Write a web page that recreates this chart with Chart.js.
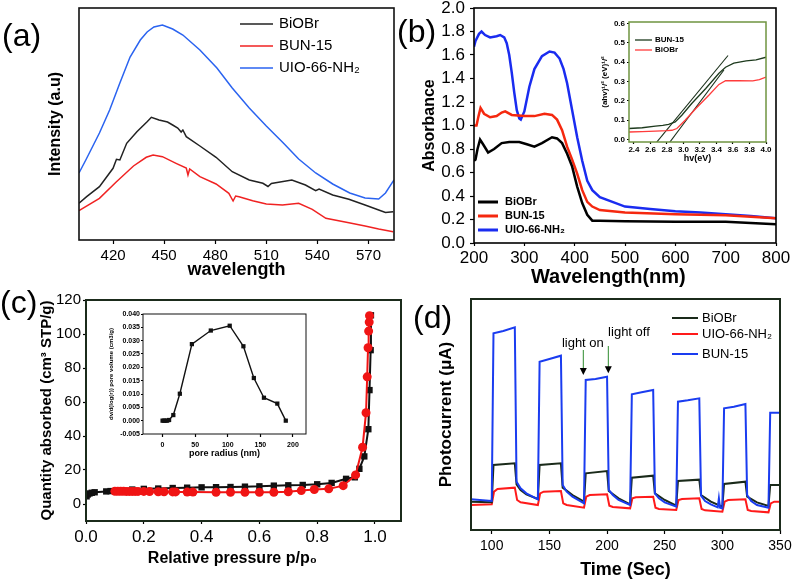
<!DOCTYPE html>
<html>
<head>
<meta charset="utf-8">
<title>BiOBr / UIO-66-NH2 / BUN-15</title>
<script src="https://cdn.jsdelivr.net/npm/chart.js@4.4.1/dist/chart.umd.min.js"></script>
<style>
  html, body { margin: 0; padding: 0; background: #fff; }
  body { position: relative; width: 792px; height: 582px; overflow: hidden; font-family: "Liberation Sans", Arial, sans-serif; }
  canvas { position: absolute; }
  .tag { position: absolute; font-size: 32px; line-height: 32px; color: #000; z-index: 5; }
</style>
</head>
<body>
<canvas id="plChart" width="400" height="290" style="left:0;top:0"></canvas>
<canvas id="uvChart" width="392" height="290" style="left:400px;top:0"></canvas>
<canvas id="taucChart" width="185" height="150" style="left:590px;top:15px"></canvas>
<canvas id="betChart" width="410" height="292" style="left:0;top:290px"></canvas>
<canvas id="poreChart" width="212" height="157" style="left:100px;top:305px"></canvas>
<canvas id="currentChart" width="382" height="292" style="left:410px;top:290px"></canvas>
<div class="tag" style="left:2px;top:19px">(a)</div>
<div class="tag" style="left:397px;top:15px">(b)</div>
<div class="tag" style="left:0;top:286px">(c)</div>
<div class="tag" style="left:413px;top:301px">(d)</div>
<script>
// (a) PL spectra
const plTicks = [420, 450, 480, 510, 540, 570];
const plBiOBrX = [400, 404.5, 412, 420, 422, 424, 428, 434, 440, 442.5, 447, 452, 455, 458, 460, 461, 463, 471, 480.5, 490, 500, 508, 511, 513, 515.5, 525, 533, 539, 541, 549, 558.5, 568, 576, 580, 584.5];
const plBiOBrY = [36.7, 43.3, 53.3, 71.7, 80.7, 80, 96.7, 108.3, 118.3, 122.7, 120, 118, 115, 112, 108, 110, 103.3, 94, 82.7, 68.3, 60, 56.7, 53.5, 56.5, 57.3, 60, 55, 49.3, 51, 45, 40.7, 35, 30, 27.5, 28.3];
const plBunX = [400, 412, 422, 432, 439.5, 443.5, 449, 457, 463, 464, 465, 471, 480.5, 488, 490.5, 492, 494, 502, 510, 519.5, 529, 537, 545, 558.5, 568, 576, 584.5];
const plBunY = [29.3, 41.7, 58.3, 74, 82.7, 85, 83.3, 76.7, 72, 65, 71, 63.3, 56, 46.7, 39, 44, 43.3, 39.3, 36, 35, 36.7, 30.7, 21.7, 17.3, 14, 11, 8.3];
const plUioX = [400, 404, 412, 418, 424, 430, 436, 440, 444, 449, 455, 461, 471, 481, 490, 500, 510, 520, 529, 539, 549, 559, 568, 576, 580, 585];
const plUioY = [67, 80, 107, 130, 157, 183, 200, 208, 213, 215, 211, 205, 190, 172, 152, 132, 114, 97, 81, 67, 56, 47, 42, 41, 47, 60];

// (b) UV-vis absorbance
const uvXTicks = [200, 300, 400, 500, 600, 700, 800];
const uvYTicks = [0, 0.2, 0.4, 0.6, 0.8, 1.0, 1.2, 1.4, 1.6, 1.8, 2.0];
const uvBiOBrX = [200, 203, 207, 212, 218, 228, 240, 255, 270, 290, 305, 320, 335, 355, 365, 375, 385, 395, 405, 415, 425, 435, 450, 500, 600, 700, 800];
const uvBiOBrY = [0.70, 0.71, 0.80, 0.88, 0.84, 0.77, 0.80, 0.85, 0.86, 0.86, 0.84, 0.82, 0.85, 0.90, 0.89, 0.85, 0.76, 0.65, 0.48, 0.34, 0.24, 0.19, 0.19, 0.185, 0.18, 0.18, 0.16];
const uvBunX = [200, 205, 209, 213, 220, 232, 245, 255, 262, 275, 300, 320, 340, 355, 365, 375, 385, 395, 405, 415, 425, 435, 450, 500, 600, 700, 800];
const uvBunY = [1.00, 1.00, 1.08, 1.15, 1.10, 1.07, 1.08, 1.11, 1.12, 1.09, 1.08, 1.08, 1.10, 1.09, 1.05, 0.96, 0.82, 0.71, 0.59, 0.45, 0.35, 0.31, 0.28, 0.26, 0.245, 0.236, 0.21];
const uvUioX = [200, 203, 210, 215, 222, 232, 245, 252, 260, 265, 270, 275, 280, 285, 290, 293, 300, 310, 320, 335, 350, 360, 370, 378, 385, 395, 405, 415, 425, 435, 450, 475, 500, 550, 600, 650, 700, 750, 800];
const uvUioY = [1.67, 1.72, 1.78, 1.80, 1.77, 1.75, 1.76, 1.77, 1.75, 1.70, 1.60, 1.45, 1.28, 1.13, 1.06, 1.05, 1.12, 1.33, 1.48, 1.59, 1.63, 1.62, 1.57, 1.48, 1.36, 1.13, 0.90, 0.70, 0.53, 0.45, 0.39, 0.35, 0.31, 0.29, 0.27, 0.26, 0.245, 0.23, 0.21];

// (b) inset, Tauc plot
const taucXTicks = [2.4, 2.6, 2.8, 3.0, 3.2, 3.4, 3.6, 3.8, 4.0];
const taucYTicks = [0, 0.1, 0.2, 0.3, 0.4, 0.5, 0.6];
const taucBunX = [2.34, 2.5, 2.66, 2.75, 2.82, 2.9, 2.98, 3.1, 3.27, 3.43, 3.51, 3.61, 3.76, 3.88, 4.0];
const taucBunY = [0.056, 0.06, 0.068, 0.072, 0.078, 0.09, 0.125, 0.186, 0.264, 0.343, 0.374, 0.395, 0.407, 0.412, 0.426];
const taucBiOBrX = [2.34, 2.5, 2.66, 2.8, 2.86, 2.92, 3.02, 3.15, 3.31, 3.43, 3.51, 3.67, 3.84, 3.92, 4.0];
const taucBiOBrY = [0.038, 0.04, 0.042, 0.045, 0.047, 0.056, 0.099, 0.16, 0.23, 0.285, 0.304, 0.304, 0.303, 0.31, 0.323];
const taucFitAX = [2.66, 3.54];
const taucFitAY = [-0.023, 0.435];
const taucFitBX = [2.82, 3.49];
const taucFitBY = [-0.023, 0.36];

// (c) N2 isotherm
const betXTicks = [0, 0.2, 0.4, 0.6, 0.8, 1.0];
const betYTicks = [0, 20, 40, 60, 80, 100, 120];
const betBlackX = [0.002, 0.006, 0.012, 0.02, 0.03, 0.07, 0.085, 0.12, 0.16, 0.2, 0.25, 0.3, 0.35, 0.4, 0.45, 0.5, 0.55, 0.6, 0.65, 0.7, 0.75, 0.8, 0.85, 0.9, 0.93, 0.946, 0.963, 0.977, 0.981, 0.985, 0.986];
const betBlackY = [4.5, 5.6, 6.2, 6.6, 6.9, 7.4, 7.6, 8.1, 8.5, 8.9, 9.1, 9.4, 9.6, 9.8, 9.9, 10.0, 10.2, 10.4, 10.8, 11.0, 11.2, 11.6, 12.4, 14.8, 15.7, 20.7, 28, 44, 67, 90.5, 111];
const betRedX = [0.10, 0.11, 0.12, 0.13, 0.14, 0.15, 0.16, 0.17, 0.18, 0.20, 0.22, 0.25, 0.27, 0.30, 0.31, 0.35, 0.37, 0.45, 0.50, 0.55, 0.60, 0.65, 0.70, 0.745, 0.79, 0.84, 0.89, 0.933, 0.957, 0.969, 0.973, 0.976, 0.978, 0.980, 0.981];
const betRedY = [7.5, 7.5, 7.5, 7.5, 7.4, 7.4, 7.4, 7.4, 7.4, 7.4, 7.3, 7.2, 7.2, 7.1, 7.1, 7.0, 7.0, 6.9, 6.9, 6.9, 6.9, 6.9, 7.2, 7.9, 8.5, 8.9, 10.8, 17.1, 33.4, 53.7, 74.8, 91.9, 101.7, 107, 110.8];

// (c) inset, pore size distribution
const poreXTicks = [0, 50, 100, 150, 200];
const poreYTicks = [-0.005, 0, 0.005, 0.010, 0.015, 0.020, 0.025, 0.030, 0.035, 0.040];
const poreR = [0, 2, 4.5, 7, 10, 16.5, 26.5, 45, 74, 103, 124, 140, 155.5, 176, 189];
const poreV = [0, 0, 0, 0, 0.00025, 0.0021, 0.0101, 0.0287, 0.0338, 0.0356, 0.0279, 0.0160, 0.0086, 0.0064, 0];

// (d) transient photocurrent
const ptTicks = [100, 150, 200, 250, 300, 350];
const ptBiOBrT = [82, 100, 101.5, 120, 121.5, 125, 130, 140, 141.5, 160, 161.5, 170, 180, 181.5, 200, 201.5, 210, 220, 221.5, 240, 241.5, 250, 260, 261.5, 280, 281.5, 290, 300, 301.5, 320, 321.5, 330, 340, 341.5, 350];
const ptBiOBrI = [0.85, 0.83, 1.95, 2.00, 1.37, 1.20, 1.07, 0.93, 1.95, 2.00, 1.27, 1.05, 0.85, 1.70, 1.77, 1.17, 0.95, 0.77, 1.57, 1.63, 1.10, 0.90, 0.73, 1.47, 1.51, 1.05, 0.85, 0.70, 1.38, 1.45, 1.00, 0.83, 0.72, 1.35, 1.35];
const ptUioT = [82, 100, 102, 105, 120, 122, 125, 140, 142, 145, 160, 162, 165, 180, 182, 185, 200, 202, 205, 220, 222, 225, 240, 242, 245, 260, 262, 265, 280, 282, 285, 300, 302, 305, 320, 322, 325, 340, 342, 345, 350];
const ptUioI = [0.75, 0.77, 1.15, 1.23, 1.27, 0.90, 0.83, 0.75, 1.10, 1.15, 1.17, 0.80, 0.75, 0.67, 1.00, 1.05, 1.07, 0.73, 0.69, 0.65, 0.95, 0.98, 1.00, 0.67, 0.63, 0.60, 0.90, 0.93, 0.95, 0.63, 0.59, 0.55, 0.85, 0.90, 0.92, 0.60, 0.57, 0.53, 0.80, 0.85, 0.85];
const ptBunT = [82, 100, 101.5, 110, 120, 121.5, 125, 130, 140, 141.5, 150, 160, 161.5, 165, 170, 180, 181.5, 190, 200, 201.5, 205, 210, 220, 221.5, 230, 240, 241.5, 245, 250, 260, 261.5, 270, 280, 281.5, 285, 290, 296, 297, 298, 300, 301.5, 310, 320, 321.5, 325, 330, 340, 341.5, 350];
const ptBunI = [0.92, 0.87, 5.90, 5.97, 6.08, 1.45, 1.25, 1.10, 0.92, 5.05, 5.13, 5.23, 1.35, 1.15, 1.00, 0.80, 4.50, 4.53, 4.60, 1.20, 1.05, 0.90, 0.75, 4.07, 4.13, 4.20, 1.10, 0.95, 0.83, 0.70, 3.85, 3.89, 3.95, 1.03, 0.87, 0.77, 0.68, 0.95, 0.67, 0.65, 3.65, 3.70, 3.78, 1.05, 0.87, 0.75, 0.67, 3.52, 3.52];
const noteLabels = [
  { text: "light on", x: 179, y: 5.60 },
  { text: "light off", x: 219, y: 5.92 }
];
const noteArrows = [
  { x: 179.4, from: 5.40, to: 4.65 },
  { x: 201.1, from: 5.52, to: 4.70 }
];

const FONT = "'Liberation Sans', Arial, Helvetica, sans-serif";
Chart.defaults.font.family = FONT;
Chart.defaults.color = "#000";
Chart.defaults.animation = false;

function pts(xs, ys) {
  return xs.map((x, i) => ({ x: x, y: ys[i] }));
}

function fixWidth(w) {
  return function (scale) {
    scale.width = w;
    scale.paddingTop = 0;
    scale.paddingBottom = 0;
  };
}

function fixHeight(h) {
  return function (scale) {
    scale.height = h;
    scale.paddingLeft = 0;
    scale.paddingRight = 0;
  };
}

function useTicks(values) {
  return function (scale) {
    scale.ticks = values.map((v) => ({ value: v }));
  };
}

// box around the plot area
const framePlugin = {
  id: "frame",
  afterDatasetsDraw(chart, args, opts) {
    const a = chart.chartArea;
    const ctx = chart.ctx;
    ctx.save();
    ctx.strokeStyle = opts.color || "#000";
    ctx.lineWidth = opts.width || 1.5;
    ctx.strokeRect(a.left, a.top, a.right - a.left, a.bottom - a.top);
    ctx.restore();
  }
};

// legend drawn inside the plot area
const innerLegendPlugin = {
  id: "innerLegend",
  afterDraw(chart, args, opts) {
    if (!opts.rows) {
      return;
    }
    const a = chart.chartArea;
    const ctx = chart.ctx;
    const sets = opts.order.map((i) => chart.data.datasets[i]);
    ctx.save();
    ctx.font = opts.font;
    ctx.textBaseline = "middle";
    ctx.textAlign = "left";
    sets.forEach((ds, i) => {
      const y = a.top + opts.rows[i];
      ctx.strokeStyle = ds.borderColor;
      ctx.lineWidth = opts.lineWidth;
      ctx.beginPath();
      ctx.moveTo(a.left + opts.lineFrom, y);
      ctx.lineTo(a.left + opts.lineTo, y);
      ctx.stroke();
      ctx.fillStyle = "#000";
      ctx.fillText(ds.label, a.left + opts.textAt, y);
    });
    ctx.restore();
  }
};

// "light on / light off" marks
const notesPlugin = {
  id: "notes",
  afterDatasetsDraw(chart, args, opts) {
    if (!opts.labels) {
      return;
    }
    const ctx = chart.ctx;
    const x = chart.scales.x;
    const y = chart.scales.y;
    ctx.save();
    ctx.font = opts.font;
    ctx.fillStyle = "#000";
    ctx.textAlign = "center";
    ctx.textBaseline = "middle";
    opts.labels.forEach((l) => {
      ctx.fillText(l.text, x.getPixelForValue(l.x), y.getPixelForValue(l.y));
    });
    opts.arrows.forEach((ar) => {
      const px = x.getPixelForValue(ar.x);
      const y1 = y.getPixelForValue(ar.from);
      const y2 = y.getPixelForValue(ar.to);
      ctx.strokeStyle = opts.shaftColor;
      ctx.lineWidth = 1;
      ctx.beginPath();
      ctx.moveTo(px, y1);
      ctx.lineTo(px, y2 - 6);
      ctx.stroke();
      ctx.fillStyle = "#000";
      ctx.beginPath();
      ctx.moveTo(px - 3.5, y2 - 7);
      ctx.lineTo(px + 3.5, y2 - 7);
      ctx.lineTo(px, y2);
      ctx.closePath();
      ctx.fill();
    });
    ctx.restore();
  }
};

Chart.register(framePlugin, innerLegendPlugin, notesPlugin);

function lineSet(label, data, color, width) {
  return {
    label: label,
    data: data,
    borderColor: color,
    backgroundColor: color,
    borderWidth: width,
    pointRadius: 0,
    tension: 0,
    fill: false
  };
}

function tickGrid(len) {
  return {
    display: true,
    drawOnChartArea: false,
    drawTicks: true,
    tickLength: len,
    tickColor: "#000",
    tickWidth: 1.2
  };
}

function baseOptions(padding) {
  return {
    responsive: false,
    animation: false,
    layout: { padding: padding },
    plugins: {
      legend: { display: false },
      tooltip: { enabled: false }
    }
  };
}

// ---------- (a) ----------
const optA = baseOptions({ left: 0, top: 8, right: 6, bottom: 0 });
optA.plugins.frame = { color: "#111", width: 1.6 };
optA.plugins.innerLegend = {
  order: [0, 1, 2], rows: [16, 38, 60], lineFrom: 161, lineTo: 194, textAt: 200,
  font: "15px " + FONT, lineWidth: 1.6
};
optA.scales = {
  x: {
    type: "linear", min: 400, max: 585,
    afterBuildTicks: useTicks(plTicks),
    afterFit: fixHeight(50),
    grid: tickGrid(4),
    border: { display: false },
    ticks: { font: { size: 15 }, padding: 3, maxRotation: 0, autoSkip: false },
    title: { display: true, text: "wavelength", font: { size: 18, weight: "bold" }, padding: { top: 0, bottom: 9 } }
  },
  y: {
    type: "linear", min: 0, max: 232,
    afterFit: fixWidth(79),
    grid: { display: false },
    border: { display: false },
    ticks: { display: false },
    title: { display: true, text: "Intensity (a.u)", font: { size: 16, weight: "bold" }, padding: { top: 46, bottom: 0 } }
  }
};
new Chart(document.getElementById("plChart"), {
  type: "line",
  data: {
    datasets: [
      lineSet("BiOBr", pts(plBiOBrX, plBiOBrY), "#222222", 1.5),
      lineSet("BUN-15", pts(plBunX, plBunY), "#f02222", 1.5),
      lineSet("UIO-66-NH₂", pts(plUioX, plUioY), "#2a63f0", 1.5)
    ]
  },
  options: optA
});

// ---------- (b) ----------
const optB = baseOptions({ left: 0, top: 8, right: 16, bottom: 0 });
optB.plugins.frame = { color: "#000", width: 1.6 };
optB.plugins.innerLegend = {
  order: [0, 1, 2], rows: [194, 208, 222], lineFrom: 4, lineTo: 24, textAt: 31,
  font: "bold 11px " + FONT, lineWidth: 3
};
optB.scales = {
  x: {
    type: "linear", min: 200, max: 800,
    afterBuildTicks: useTicks(uvXTicks),
    afterFit: fixHeight(47),
    grid: tickGrid(3),
    border: { display: false },
    ticks: { font: { size: 17 }, padding: 2, maxRotation: 0, autoSkip: false },
    title: { display: true, text: "Wavelength(nm)      ", font: { size: 20, weight: "bold" }, padding: { top: 0, bottom: 1 } }
  },
  y: {
    type: "linear", min: 0, max: 2,
    afterBuildTicks: useTicks(uvYTicks),
    afterFit: fixWidth(74),
    grid: tickGrid(4),
    border: { display: false },
    ticks: { font: { size: 17 }, padding: 5, autoSkip: false, callback: (v) => v.toFixed(1) },
    title: { display: true, text: "Absorbance", font: { size: 16, weight: "bold" }, padding: { top: 20, bottom: 0 } }
  }
};
new Chart(document.getElementById("uvChart"), {
  type: "line",
  data: {
    datasets: [
      lineSet("BiOBr", pts(uvBiOBrX, uvBiOBrY), "#000000", 2.5),
      lineSet("BUN-15", pts(uvBunX, uvBunY), "#f5280f", 2.5),
      lineSet("UIO-66-NH₂", pts(uvUioX, uvUioY), "#1a2cf0", 2.5)
    ]
  },
  options: optB
});

// ---------- (b) inset ----------
const optT = baseOptions({ left: 0, top: 7, right: 9, bottom: 0 });
optT.plugins.frame = { color: "#6f9440", width: 1.5 };
optT.plugins.innerLegend = {
  order: [0, 1], rows: [18, 28], lineFrom: 6, lineTo: 23, textAt: 26,
  font: "bold 8px " + FONT, lineWidth: 1.3
};
optT.scales = {
  x: {
    type: "linear", min: 2.34, max: 4.0,
    afterBuildTicks: useTicks(taucXTicks),
    afterFit: fixHeight(23),
    grid: tickGrid(2),
    border: { display: false },
    ticks: { font: { size: 8, weight: "bold" }, padding: 1, maxRotation: 0, autoSkip: false, callback: (v) => v.toFixed(1) },
    title: { display: true, text: "hv(eV)", font: { size: 9, weight: "bold" }, padding: { top: 0, bottom: 1 } }
  },
  y: {
    type: "linear", min: -0.014, max: 0.609,
    afterBuildTicks: useTicks(taucYTicks),
    afterFit: fixWidth(39),
    grid: tickGrid(2),
    border: { display: false },
    ticks: { font: { size: 8, weight: "bold" }, padding: 2, autoSkip: false, callback: (v) => v.toFixed(1) },
    title: { display: true, text: "(ahv)¹/² (eV)¹/²", font: { size: 8, weight: "bold" }, padding: { top: 10, bottom: 0 } }
  }
};
new Chart(document.getElementById("taucChart"), {
  type: "line",
  data: {
    datasets: [
      lineSet("BUN-15", pts(taucBunX, taucBunY), "#1d3a1d", 1.3),
      lineSet("BiOBr", pts(taucBiOBrX, taucBiOBrY), "#ff3b3b", 1.3),
      lineSet("fit BUN-15", pts(taucFitAX, taucFitAY), "#1a301a", 1.1),
      lineSet("fit BiOBr", pts(taucFitBX, taucFitBY), "#1a301a", 1.1)
    ]
  },
  options: optT
});

// ---------- (c) ----------
const optC = baseOptions({ left: 0, top: 10, right: 9, bottom: 0 });
optC.plugins.frame = { color: "#1b2b1b", width: 2 };
optC.scales = {
  x: {
    type: "linear", min: 0, max: 1.09,
    afterBuildTicks: useTicks(betXTicks),
    afterFit: fixHeight(61),
    grid: tickGrid(3),
    border: { display: false },
    ticks: { font: { size: 17 }, padding: 3, maxRotation: 0, autoSkip: false, callback: (v) => v.toFixed(1) },
    title: { display: true, text: "Relative pressure p/p₀     ", font: { size: 16, weight: "bold" }, padding: { top: 0, bottom: 14 } }
  },
  y: {
    type: "linear", min: -10, max: 120,
    afterBuildTicks: useTicks(betYTicks),
    afterFit: fixWidth(86),
    grid: tickGrid(3),
    border: { display: false },
    ticks: { font: { size: 15 }, padding: 2, autoSkip: false },
    title: { display: true, text: "Quantity absorbed (cm³ STP/g)", font: { size: 15, weight: "bold" }, padding: { top: 38, bottom: 0 } }
  }
};
new Chart(document.getElementById("betChart"), {
  type: "line",
  data: {
    datasets: [
      {
        label: "BUN-15 (red)",
        data: pts(betRedX, betRedY),
        borderColor: "#f01414",
        backgroundColor: "#f01414",
        borderWidth: 2,
        pointStyle: "circle",
        pointRadius: 4.5,
        pointBorderWidth: 0,
        tension: 0,
        fill: false,
        order: 0
      },
      {
        label: "BiOBr (black)",
        data: pts(betBlackX, betBlackY),
        borderColor: "#111111",
        backgroundColor: "#111111",
        borderWidth: 2,
        pointStyle: "rect",
        pointRadius: 4.5,
        pointBorderWidth: 0,
        tension: 0,
        fill: false,
        order: 1
      }
    ]
  },
  options: optC
});

// ---------- (c) inset ----------
const optP = baseOptions({ left: 0, top: 9, right: 6, bottom: 0 });
optP.plugins.frame = { color: "#111", width: 1 };
optP.scales = {
  x: {
    type: "linear", min: -30, max: 220,
    afterBuildTicks: useTicks(poreXTicks),
    afterFit: fixHeight(28),
    grid: tickGrid(3),
    border: { display: false },
    ticks: { font: { size: 7, weight: "bold" }, padding: 4, maxRotation: 0, autoSkip: false },
    title: { display: true, text: "pore radius (nm)", font: { size: 9, weight: "bold" }, padding: { top: 0, bottom: 3 } }
  },
  y: {
    type: "linear", min: -0.005, max: 0.040,
    afterBuildTicks: useTicks(poreYTicks),
    afterFit: fixWidth(43),
    grid: tickGrid(2),
    border: { display: false },
    ticks: { font: { size: 7, weight: "bold" }, padding: 1, autoSkip: false, callback: (v) => v.toFixed(3) },
    title: { display: true, text: "dv/d(log(r)) pore volume (cm3/g)", font: { size: 6, weight: "bold" }, padding: { top: 8, bottom: 0 } }
  }
};
new Chart(document.getElementById("poreChart"), {
  type: "line",
  data: {
    datasets: [
      {
        label: "pore size",
        data: pts(poreR, poreV),
        borderColor: "#111111",
        backgroundColor: "#111111",
        borderWidth: 1.4,
        pointStyle: "rect",
        pointRadius: 3,
        pointBorderWidth: 0,
        tension: 0,
        fill: false
      }
    ]
  },
  options: optP
});

// ---------- (d) ----------
const optD = baseOptions({ left: 0, top: 9, right: 12, bottom: 0 });
optD.plugins.frame = { color: "#1b2b1b", width: 2 };
optD.plugins.innerLegend = {
  order: [0, 1, 2], rows: [19, 35, 55], lineFrom: 201, lineTo: 227, textAt: 231,
  font: "13px " + FONT, lineWidth: 2
};
optD.plugins.notes = {
  labels: noteLabels, arrows: noteArrows, font: "13px " + FONT, shaftColor: "#2e8b2e"
};
optD.scales = {
  x: {
    type: "linear", min: 82, max: 350,
    afterBuildTicks: useTicks(ptTicks),
    afterFit: fixHeight(52),
    grid: tickGrid(4),
    border: { display: false },
    ticks: { font: { size: 14 }, padding: 4, maxRotation: 0, autoSkip: false },
    title: { display: true, text: "Time (Sec)", font: { size: 18, weight: "bold" }, padding: { top: 0, bottom: 1 } }
  },
  y: {
    type: "linear", min: 0, max: 6.93,
    afterFit: fixWidth(61),
    grid: { display: false },
    border: { display: false },
    ticks: { display: false },
    title: { display: true, text: "Photocurrent (μA)", font: { size: 17, weight: "bold" }, padding: { top: 26, bottom: 0 } }
  }
};
new Chart(document.getElementById("currentChart"), {
  type: "line",
  data: {
    datasets: [
      Object.assign(lineSet("BiOBr", pts(ptBiOBrT, ptBiOBrI), "#1a2a1a", 2), { order: 1 }),
      Object.assign(lineSet("UIO-66-NH₂", pts(ptUioT, ptUioI), "#ff1a1a", 2), { order: 2 }),
      Object.assign(lineSet("BUN-15", pts(ptBunT, ptBunI), "#1a3cf0", 2), { order: 0 })
    ]
  },
  options: optD
});
</script>
</body>
</html>
